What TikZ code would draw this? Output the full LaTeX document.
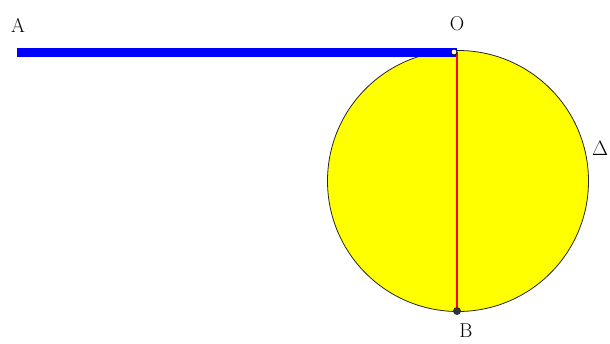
\documentclass[tikz,border=0pt]{standalone}
\usepackage{xcolor}
\usepackage{tikz}
\usetikzlibrary{positioning,calc}
\definecolor{barblue}{HTML}{0000FF}
\definecolor{discyellow}{HTML}{FFFF00}
\definecolor{rodred}{HTML}{FF0000}
\tikzstyle{disc} = [circle, draw=black!85, line width=0.8pt, fill=discyellow, minimum size=261pt, inner sep=0pt]
\tikzstyle{bar} = [line width=9pt, barblue]
\tikzstyle{rod} = [line width=2.8pt, rodred]
\tikzstyle{pin} = [circle, draw=black, line width=0.8pt, fill=white, minimum size=6pt, inner sep=0pt]
\tikzstyle{weight} = [circle, fill=black!80, minimum size=8pt, inner sep=0pt]
\tikzstyle{lbl} = [font=\fontsize{20}{20}\selectfont, inner sep=0pt]

\begin{document}
\begin{tikzpicture}[x=1pt, y=-1pt]
\useasboundingbox (0,0) rectangle (610,343);
\node[disc] (c) at (458,181) {};
\coordinate (A) at (17,52);
\coordinate (O) at (457,52);
\coordinate (B) at (457,311);
\draw[bar] (A) -- (O);
\draw[rod] (O) -- (B);
\node[pin] (p) at ($(O)+(-3,0)$) {};
\node[weight] (w) at (B) {};

\node[lbl] (la) at (18,25) {A};
\node[lbl] (lo) at (457,24) {O};
\node[lbl] (lb) at (466,331) {B};
\node[lbl] (ld) at (600,148) {$\Delta$};
\end{tikzpicture}
\end{document}
